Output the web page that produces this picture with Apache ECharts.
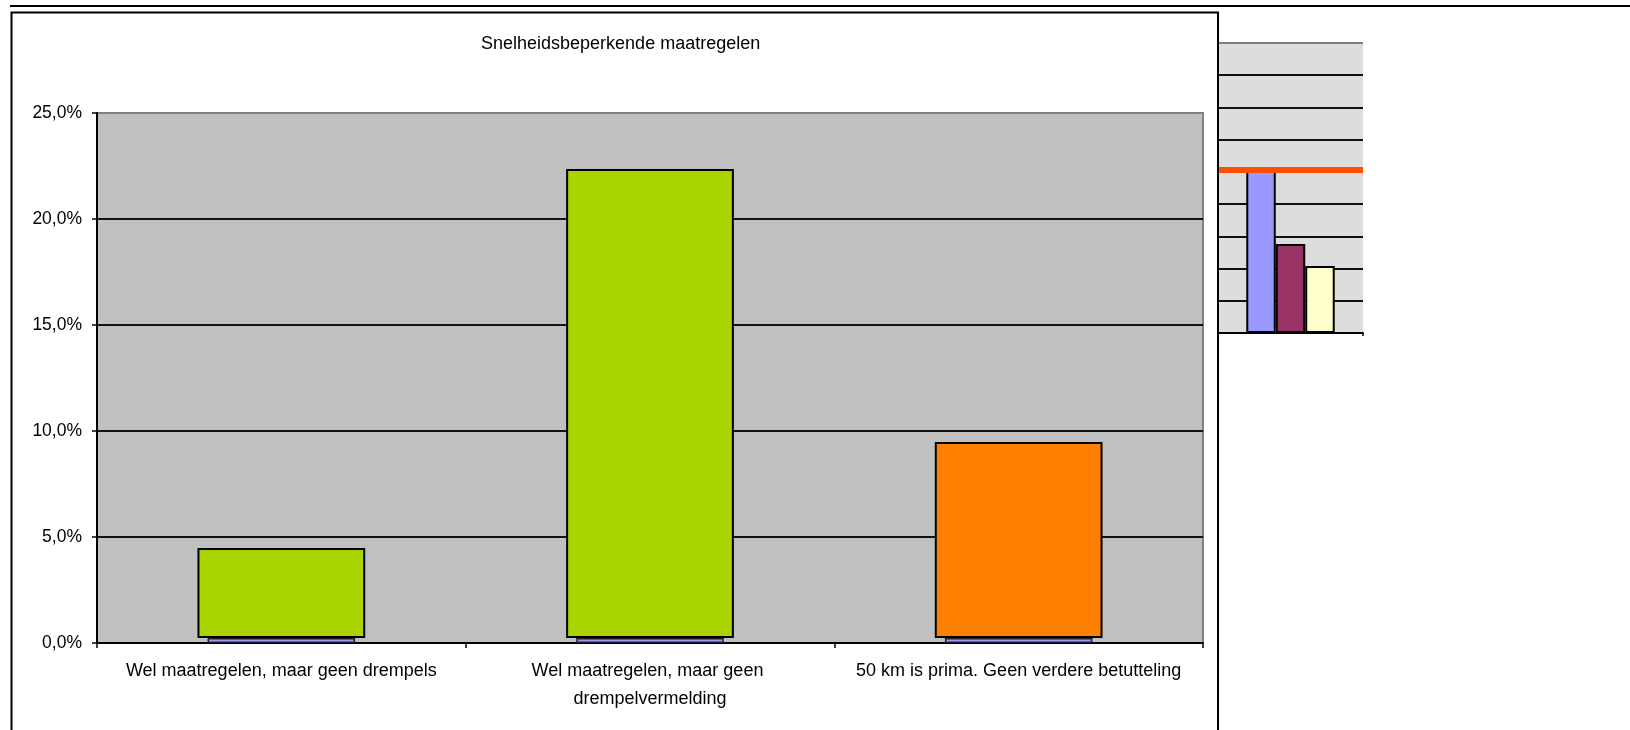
<!DOCTYPE html>
<html>
<head>
<meta charset="utf-8">
<script src="https://cdn.jsdelivr.net/npm/echarts@6/dist/echarts.min.js"></script>
<style>
html,body{margin:0;padding:0;background:#fff;}
#c{width:1630px;height:730px;}
</style>
</head>
<body>
<div id="c"></div>
<script>
// ---- data ----
const titleText = 'Snelheidsbeperkende maatregelen';
const categories = [
  'Wel maatregelen, maar geen drempels',
  'Wel maatregelen, maar geen drempelvermelding',
  '50 km is prima. Geen verdere betutteling'
];
const baseValues = [0.24, 0.24, 0.24];      // thin blue strip at the bottom (%)
const mainValues = [4.24, 22.12, 9.24];     // green/orange segment (%)
const mainColors = ['#AAD400', '#AAD400', '#FF8000'];
const yMin = 0, yMax = 25, yStep = 5;

// inset (small chart on the right)
const insetCategories = [''];
const insetBlue = [5.06];
const insetMaroon = [2.76];
const insetYellow = [2.08];
const insetLine = [5.06];
const insetMin = 0, insetMax = 9, insetStep = 1;

const FONT = "'Liberation Sans', Arial, sans-serif";
const chart = echarts.init(document.getElementById('c'), null, {renderer: 'canvas'});

const mainSplitColors = [];
for (let v = yMin; v <= yMax; v += yStep) mainSplitColors.push(v === yMax ? '#808080' : '#111');
const insetSplitColors = [];
for (let v = insetMin; v <= insetMax; v += insetStep) insetSplitColors.push(v === insetMax ? '#808080' : '#111');

chart.setOption({
  animation: false,
  backgroundColor: '#ffffff',
  title: {
    text: titleText,
    left: 476, top: 30,
    textStyle: {fontFamily: FONT, fontSize: 18, fontWeight: 'normal', color: '#000'}
  },
  grid: [
    {left: 97, top: 113, width: 1106, height: 530, show: true,
     backgroundColor: '#C0C0C0', borderColor: '#808080', borderWidth: 2, containLabel: false},
    {left: 1218, top: 43, width: 145, height: 290, show: true,
     backgroundColor: '#DDDDDD', borderWidth: 0, containLabel: false}
  ],
  xAxis: [
    {type: 'category', gridIndex: 0, data: categories,
     axisLine: {show: true, lineStyle: {color: '#000', width: 2}},
     axisTick: {show: true, length: 5, lineStyle: {color: '#000', width: 1.5}},
     axisLabel: {interval: 0, margin: 14, fontFamily: FONT, fontSize: 18, lineHeight: 28,
                 color: '#000', width: 369, overflow: 'break', align: 'center'},
     splitLine: {show: false}},
    {type: 'category', gridIndex: 0, data: categories, show: false},
    {type: 'category', gridIndex: 1, data: insetCategories,
     axisLine: {show: true, lineStyle: {color: '#000', width: 2}},
     axisTick: {show: true, length: 3, lineStyle: {color: '#000', width: 1.5}},
     axisLabel: {show: false}, splitLine: {show: false}}
  ],
  yAxis: [
    {type: 'value', gridIndex: 0, min: yMin, max: yMax, interval: yStep,
     axisLine: {show: true, lineStyle: {color: '#000', width: 2}},
     axisTick: {show: true, length: 5, lineStyle: {color: '#000', width: 1.5}},
     axisLabel: {margin: 15, fontFamily: FONT, fontSize: 17.5, color: '#000',
                 formatter: v => v.toFixed(1).replace('.', ',') + '%'},
     splitLine: {show: true, lineStyle: {color: mainSplitColors, width: 2}}},
    {type: 'value', gridIndex: 1, min: insetMin, max: insetMax, interval: insetStep,
     axisLine: {show: true, lineStyle: {color: '#000', width: 2}},
     axisTick: {show: false}, axisLabel: {show: false},
     splitLine: {show: true, lineStyle: {color: insetSplitColors, width: 2}}}
  ],
  series: [
    {type: 'bar', name: 'base', xAxisIndex: 0, yAxisIndex: 0, stack: 'm', data: baseValues,
     barWidth: '45.5%', silent: true,
     itemStyle: {color: 'rgba(0,0,0,0)', borderWidth: 0}},
    {type: 'bar', name: 'main', xAxisIndex: 0, yAxisIndex: 0, stack: 'm', data: mainValues,
     barWidth: '45.5%',
     itemStyle: {color: p => mainColors[p.dataIndex], borderColor: '#000', borderWidth: 2}},
    {type: 'bar', name: 'blue', xAxisIndex: 1, yAxisIndex: 0, data: baseValues,
     barWidth: '40%',
     itemStyle: {color: '#9999FF', borderColor: '#222', borderWidth: 1.5}},
    {type: 'bar', name: 'i1', xAxisIndex: 2, yAxisIndex: 1, data: insetBlue,
     barGap: '0%', barCategoryGap: '39%',
     itemStyle: {color: '#9999FF', borderColor: '#000', borderWidth: 2},
     markLine: {silent: true, symbol: ['none', 'none'], label: {show: false},
                lineStyle: {color: '#FF5000', width: 6, type: 'solid'},
                data: [{yAxis: insetLine[0]}]}},
    {type: 'bar', name: 'i2', xAxisIndex: 2, yAxisIndex: 1, data: insetMaroon,
     barGap: '0%', barCategoryGap: '39%',
     itemStyle: {color: '#993366', borderColor: '#000', borderWidth: 2}},
    {type: 'bar', name: 'i3', xAxisIndex: 2, yAxisIndex: 1, data: insetYellow,
     barGap: '0%', barCategoryGap: '39%',
     itemStyle: {color: '#FFFFCC', borderColor: '#000', borderWidth: 2}}
  ],
  graphic: [
    {type: 'line', z: 100, shape: {x1: 10, y1: 6, x2: 1630, y2: 6},
     style: {stroke: '#000', lineWidth: 2}},
    {type: 'polyline', z: 100,
     shape: {points: [[11.5, 740], [11.5, 12.5], [1218, 12.5], [1218, 740]]},
     style: {stroke: '#000', lineWidth: 2, fill: null}}
  ]
});
</script>
</body>
</html>
